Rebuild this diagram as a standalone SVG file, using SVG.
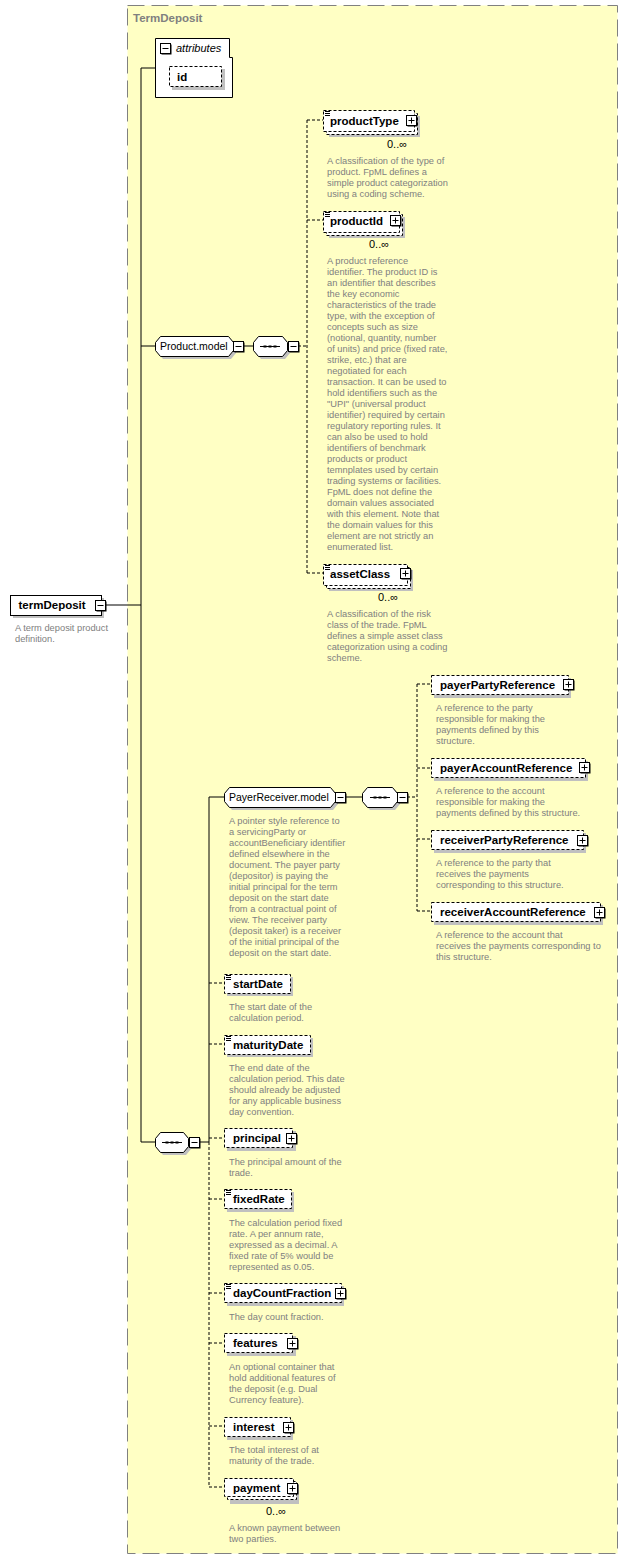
<svg xmlns="http://www.w3.org/2000/svg" width="628" height="1560" viewBox="0 0 628 1560">
<style>
.bg{fill:#fff}
.cont{fill:#FFFFC4;stroke:#808080;stroke-width:1;stroke-dasharray:17 7}
.title{font-family:"Liberation Sans",Arial,sans-serif;font-size:11.5px;font-weight:bold;fill:#808080}
.box{fill:#fff;stroke:#000;stroke-width:1}
.dbox{fill:#fff;stroke:#000;stroke-width:1;stroke-dasharray:3 2}
.sh{fill:#C0C0C0}
.name{font-family:"Liberation Sans",Arial,sans-serif;font-size:11.5px;font-weight:bold;fill:#000}
.grp{font-family:"Liberation Sans",Arial,sans-serif;font-size:10.5px;fill:#000}
.att{font-family:"Liberation Sans",Arial,sans-serif;font-size:11px;font-style:italic;fill:#000}
.occ{font-family:"Liberation Sans",Arial,sans-serif;font-size:11px;fill:#000}
.desc{font-family:"Liberation Sans",Arial,sans-serif;font-size:9.3px;fill:#808080}
.ln{fill:none;stroke:#000;stroke-width:1}
.dln{fill:none;stroke:#000;stroke-width:1;stroke-dasharray:3 2}
</style>
<defs>
<g id="plus"><rect x="1.5" y="1.5" width="10" height="10" fill="#000"/><rect x="0.5" y="0.5" width="10" height="10" fill="#fff" stroke="#000"/><path d="M2.5 5.5H8.5M5.5 2.5V8.5" stroke="#000" fill="none"/></g>
<g id="minus"><rect x="1.5" y="1.5" width="10" height="10" fill="#000"/><rect x="0.5" y="0.5" width="10" height="10" fill="#fff" stroke="#000"/><path d="M2.5 5.5H8.5" stroke="#000" fill="none"/></g>
<path id="stype" d="M2 1.5H7M2 3.5H7M2 5.5H7" stroke="#000" fill="none"/>
<g id="seq"><path d="M7 10.5H27" stroke="#000"/><rect x="10.5" y="9.5" width="3" height="2" fill="#000"/><rect x="15.5" y="9.5" width="3" height="2" fill="#000"/><rect x="20.5" y="9.5" width="3" height="2" fill="#000"/></g>
</defs>
<rect class="bg" x="0" y="0" width="628" height="1560"/>
<g id="TermDeposit">
<rect class="cont" x="127.5" y="5.5" width="490" height="1548"/>
<text class="title" x="133" y="22">TermDeposit</text>
</g>
<g id="connectors">
<path class="ln" d="M141 68V1142M141 68H155M141 346H155M106 605H141M141 1142H155"/>
<path class="ln" d="M244 346H253"/>
<path class="dln" d="M298 346H307M307 120V573M307 120H323M307 220H323M307 573H323"/>
<path class="ln" d="M200 1142H209M209 797V1142M209 797H224M346 797H362"/>
<path class="dln" d="M209 1142V1487M209 983H224M209 1044H224M209 1138H224M209 1199H224M209 1293H224M209 1343H224M209 1426H224M209 1487H224"/>
<path class="dln" d="M407 797H417M417 684V911M417 684H431M417 768H431M417 839H431M417 911H431"/>
</g>
<g id="termDeposit">
<rect class="sh" x="13" y="598" width="91" height="20"/>
<rect class="box" x="10.5" y="595.5" width="91" height="20"/>
<text class="name" x="18.5" y="609">termDeposit</text>
<use href="#minus" x="95" y="600"/>
<text class="desc" x="15"><tspan x="15" y="631">A term deposit product</tspan><tspan x="15" y="642">definition.</tspan></text>
</g>
<g id="attributes">
<path class="box" d="M155.5 38.5H229.5V57.5H232.5V97.5H155.5Z"/>
<use href="#minus" x="160" y="43"/>
<text class="att" x="176" y="52">attributes</text>
</g>
<g id="id">
<rect class="sh" x="172" y="69" width="53" height="21"/>
<rect class="dbox" x="169.5" y="66.5" width="52" height="20"/>
<text class="name" x="177" y="81">id</text>
</g>
<g id="Product.model">
<polygon class="sh" points="163,339 231,339 236,345 236,353 231,359 163,359 158,353 158,345"/>
<polygon class="box" points="160.5,336.5 228.5,336.5 233.5,342.5 233.5,350.5 228.5,356.5 160.5,356.5 155.5,350.5 155.5,342.5"/>
<text class="grp" x="160" y="350">Product.model</text>
<use href="#minus" x="233" y="341"/>
</g>
<g id="seq1">
<polygon class="sh" points="261,339 285,339 290,345 290,353 285,359 261,359 256,353 256,345"/>
<polygon class="box" points="258.5,336.5 282.5,336.5 287.5,342.5 287.5,350.5 282.5,356.5 258.5,356.5 253.5,350.5 253.5,342.5"/>
<use href="#seq" x="253" y="336"/>
<use href="#minus" x="288" y="341"/>
</g>
<g id="productType">
<rect class="sh" x="329" y="116" width="91" height="21"/>
<rect class="dbox" x="326.5" y="113.5" width="91" height="21"/>
<rect class="dbox" x="323.5" y="110.5" width="91" height="21"/>
<use href="#stype" x="323" y="110"/>
<text class="name" x="330" y="124.5">productType</text>
<use href="#plus" x="406" y="115"/>
<text class="occ" x="387" y="148">0..∞</text>
<text class="desc"><tspan x="327" y="163.5">A classification of the type of</tspan><tspan x="327" y="174.5">product. FpML defines a</tspan><tspan x="327" y="185.5">simple product categorization</tspan><tspan x="327" y="196.5">using a coding scheme.</tspan></text>
</g>
<g id="productId">
<rect class="sh" x="329" y="217" width="76" height="21"/>
<rect class="dbox" x="326.5" y="214.5" width="76" height="21"/>
<rect class="dbox" x="323.5" y="211.5" width="76" height="21"/>
<use href="#stype" x="323" y="211"/>
<text class="name" x="330" y="225">productId</text>
<use href="#plus" x="390" y="215"/>
<text class="occ" x="369" y="248">0..∞</text>
<text class="desc"><tspan x="327" y="263.5">A product reference</tspan><tspan x="327" y="274.5">identifier. The product ID is</tspan><tspan x="327" y="285.5">an identifier that describes</tspan><tspan x="327" y="296.5">the key economic</tspan><tspan x="327" y="307.5">characteristics of the trade</tspan><tspan x="327" y="318.5">type, with the exception of</tspan><tspan x="327" y="329.5">concepts such as size</tspan><tspan x="327" y="340.5">(notional, quantity, number</tspan><tspan x="327" y="351.5">of units) and price (fixed rate,</tspan><tspan x="327" y="362.5">strike, etc.) that are</tspan><tspan x="327" y="373.5">negotiated for each</tspan><tspan x="327" y="384.5">transaction. It can be used to</tspan><tspan x="327" y="395.5">hold identifiers such as the</tspan><tspan x="327" y="406.5">"UPI" (universal product</tspan><tspan x="327" y="417.5">identifier) required by certain</tspan><tspan x="327" y="428.5">regulatory reporting rules. It</tspan><tspan x="327" y="439.5">can also be used to hold</tspan><tspan x="327" y="450.5">identifiers of benchmark</tspan><tspan x="327" y="461.5">products or product</tspan><tspan x="327" y="472.5">temnplates used by certain</tspan><tspan x="327" y="483.5">trading systems or facilities.</tspan><tspan x="327" y="494.5">FpML does not define the</tspan><tspan x="327" y="505.5">domain values associated</tspan><tspan x="327" y="516.5">with this element. Note that</tspan><tspan x="327" y="527.5">the domain values for this</tspan><tspan x="327" y="538.5">element are not strictly an</tspan><tspan x="327" y="549.5">enumerated list.</tspan></text>
</g>
<g id="assetClass">
<rect class="sh" x="329" y="570" width="84" height="21"/>
<rect class="dbox" x="326.5" y="567.5" width="84" height="21"/>
<rect class="dbox" x="323.5" y="564.5" width="84" height="21"/>
<use href="#stype" x="323" y="564"/>
<text class="name" x="330" y="578">assetClass</text>
<use href="#plus" x="400" y="568"/>
<text class="occ" x="378" y="601">0..∞</text>
<text class="desc"><tspan x="327" y="616.5">A classification of the risk</tspan><tspan x="327" y="627.5">class of the trade. FpML</tspan><tspan x="327" y="638.5">defines a simple asset class</tspan><tspan x="327" y="649.5">categorization using a coding</tspan><tspan x="327" y="660.5">scheme.</tspan></text>
</g>
<g id="PayerReceiver.model">
<polygon class="sh" points="232,790 333,790 338,796 338,804 333,810 232,810 227,804 227,796"/>
<polygon class="box" points="229.5,787.5 330.5,787.5 335.5,793.5 335.5,801.5 330.5,807.5 229.5,807.5 224.5,801.5 224.5,793.5"/>
<text class="grp" x="229" y="801">PayerReceiver.model</text>
<use href="#minus" x="335" y="792"/>
<text class="desc"><tspan x="229" y="823.5">A pointer style reference to</tspan><tspan x="229" y="834.5">a servicingParty or</tspan><tspan x="229" y="845.5">accountBeneficiary identifier</tspan><tspan x="229" y="856.5">defined elsewhere in the</tspan><tspan x="229" y="867.5">document. The payer party</tspan><tspan x="229" y="878.5">(depositor) is paying the</tspan><tspan x="229" y="889.5">initial principal for the term</tspan><tspan x="229" y="900.5">deposit on the start date</tspan><tspan x="229" y="911.5">from a contractual point of</tspan><tspan x="229" y="922.5">view. The receiver party</tspan><tspan x="229" y="933.5">(deposit taker) is a receiver</tspan><tspan x="229" y="944.5">of the initial principal of the</tspan><tspan x="229" y="955.5">deposit on the start date.</tspan></text>
</g>
<g id="seq2">
<polygon class="sh" points="370,790 395,790 400,796 400,804 395,810 370,810 365,804 365,796"/>
<polygon class="box" points="367.5,787.5 392.5,787.5 397.5,793.5 397.5,801.5 392.5,807.5 367.5,807.5 362.5,801.5 362.5,793.5"/>
<use href="#seq" x="363" y="787"/>
<use href="#minus" x="397" y="792"/>
</g>
<g id="payerPartyReference">
<rect class="sh" x="434" y="678" width="137" height="20"/>
<rect class="dbox" x="431.5" y="675.5" width="137" height="19"/>
<text class="name" x="440" y="689">payerPartyReference</text>
<use href="#plus" x="563" y="679"/>
<text class="desc"><tspan x="436" y="710.5">A reference to the party</tspan><tspan x="436" y="721.5">responsible for making the</tspan><tspan x="436" y="732.5">payments defined by this</tspan><tspan x="436" y="743.5">structure.</tspan></text>
</g>
<g id="payerAccountReference">
<rect class="sh" x="434" y="761" width="154" height="20"/>
<rect class="dbox" x="431.5" y="758.5" width="154" height="19"/>
<text class="name" x="440" y="772">payerAccountReference</text>
<use href="#plus" x="579" y="762"/>
<text class="desc"><tspan x="436" y="793.5">A reference to the account</tspan><tspan x="436" y="804.5">responsible for making the</tspan><tspan x="436" y="815.5">payments defined by this structure.</tspan></text>
</g>
<g id="receiverPartyReference">
<rect class="sh" x="434" y="833" width="152" height="20"/>
<rect class="dbox" x="431.5" y="830.5" width="152" height="19"/>
<text class="name" x="440" y="844">receiverPartyReference</text>
<use href="#plus" x="577" y="835"/>
<text class="desc"><tspan x="436" y="865.5">A reference to the party that</tspan><tspan x="436" y="876.5">receives the payments</tspan><tspan x="436" y="887.5">corresponding to this structure.</tspan></text>
</g>
<g id="receiverAccountReference">
<rect class="sh" x="434" y="905" width="169" height="20"/>
<rect class="dbox" x="431.5" y="902.5" width="169" height="19"/>
<text class="name" x="440" y="916">receiverAccountReference</text>
<use href="#plus" x="594" y="907"/>
<text class="desc"><tspan x="436" y="937.5">A reference to the account that</tspan><tspan x="436" y="948.5">receives the payments corresponding to</tspan><tspan x="436" y="959.5">this structure.</tspan></text>
</g>
<g id="seq3">
<polygon class="sh" points="163,1135 186,1135 191,1141 191,1149 186,1155 163,1155 158,1149 158,1141"/>
<polygon class="box" points="160.5,1132.5 183.5,1132.5 188.5,1138.5 188.5,1146.5 183.5,1152.5 160.5,1152.5 155.5,1146.5 155.5,1138.5"/>
<use href="#seq" x="155" y="1132"/>
<use href="#minus" x="189" y="1137"/>
</g>
<g id="startDate">
<rect class="sh" x="227" y="977" width="66" height="19"/>
<rect class="dbox" x="224.5" y="974.5" width="66" height="19"/>
<use href="#stype" x="224" y="974"/>
<text class="name" x="233" y="988">startDate</text>
<text class="desc"><tspan x="229" y="1009.5">The start date of the</tspan><tspan x="229" y="1020.5">calculation period.</tspan></text>
</g>
<g id="maturityDate">
<rect class="sh" x="227" y="1038" width="86" height="19"/>
<rect class="dbox" x="224.5" y="1035.5" width="86" height="19"/>
<use href="#stype" x="224" y="1035"/>
<text class="name" x="233" y="1049">maturityDate</text>
<text class="desc"><tspan x="229" y="1070.5">The end date of the</tspan><tspan x="229" y="1081.5">calculation period. This date</tspan><tspan x="229" y="1092.5">should already be adjusted</tspan><tspan x="229" y="1103.5">for any applicable business</tspan><tspan x="229" y="1114.5">day convention.</tspan></text>
</g>
<g id="principal">
<rect class="sh" x="227" y="1131" width="69" height="20"/>
<rect class="dbox" x="224.5" y="1128.5" width="68" height="19"/>
<text class="name" x="233" y="1142">principal</text>
<use href="#plus" x="286" y="1133"/>
<text class="desc"><tspan x="229" y="1164.5">The principal amount of the</tspan><tspan x="229" y="1175.5">trade.</tspan></text>
</g>
<g id="fixedRate">
<rect class="sh" x="227" y="1192" width="67" height="20"/>
<rect class="dbox" x="224.5" y="1189.5" width="67" height="19"/>
<use href="#stype" x="224" y="1189"/>
<text class="name" x="233" y="1203">fixedRate</text>
<text class="desc"><tspan x="229" y="1225.5">The calculation period fixed</tspan><tspan x="229" y="1236.5">rate. A per annum rate,</tspan><tspan x="229" y="1247.5">expressed as a decimal. A</tspan><tspan x="229" y="1258.5">fixed rate of 5% would be</tspan><tspan x="229" y="1269.5">represented as 0.05.</tspan></text>
</g>
<g id="dayCountFraction">
<rect class="sh" x="227" y="1286" width="117" height="20"/>
<rect class="dbox" x="224.5" y="1283.5" width="117" height="19"/>
<use href="#stype" x="224" y="1283"/>
<text class="name" x="233" y="1297">dayCountFraction</text>
<use href="#plus" x="335" y="1288"/>
<text class="desc"><tspan x="229" y="1319.5">The day count fraction.</tspan></text>
</g>
<g id="features">
<rect class="sh" x="227" y="1336" width="69" height="20"/>
<rect class="dbox" x="224.5" y="1333.5" width="68" height="19"/>
<text class="name" x="233" y="1347">features</text>
<use href="#plus" x="287" y="1338"/>
<text class="desc"><tspan x="229" y="1369.5">An optional container that</tspan><tspan x="229" y="1380.5">hold additional features of</tspan><tspan x="229" y="1391.5">the deposit (e.g. Dual</tspan><tspan x="229" y="1402.5">Currency feature).</tspan></text>
</g>
<g id="interest">
<rect class="sh" x="227" y="1420" width="66" height="20"/>
<rect class="dbox" x="224.5" y="1417.5" width="66" height="19"/>
<text class="name" x="233" y="1431">interest</text>
<use href="#plus" x="283" y="1422"/>
<text class="desc"><tspan x="229" y="1452.5">The total interest of at</tspan><tspan x="229" y="1463.5">maturity of the trade.</tspan></text>
</g>
<g id="payment">
<rect class="sh" x="230" y="1484" width="69" height="20"/>
<rect class="dbox" x="227.5" y="1481.5" width="69" height="18"/>
<rect class="dbox" x="224.5" y="1478.5" width="69" height="18"/>
<text class="name" x="233" y="1492">payment</text>
<use href="#plus" x="287" y="1483"/>
<text class="occ" x="266" y="1515">0..∞</text>
<text class="desc"><tspan x="229" y="1530.5">A known payment between</tspan><tspan x="229" y="1541.5">two parties.</tspan></text>
</g>
</svg>
